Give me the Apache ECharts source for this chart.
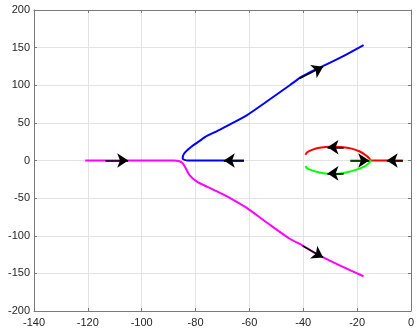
<!DOCTYPE html>
<html><head><meta charset="utf-8">
<script src="https://cdn.jsdelivr.net/npm/echarts@6/dist/echarts.min.js"></script>
<style>html,body{margin:0;padding:0;background:#fff}#c{width:417px;height:328px}</style>
</head><body><div id="c"></div>
<script>
// Root locus branches [re, im]
const blueBranch = [[-62,0],[-75,0],[-83,0],[-84.8,2.5],[-84.3,9],[-82,17],[-78.5,26],[-75.6,33],[-72,39],[-68.3,46],[-61,60],[-53.7,78],[-45,100],[-40.7,111],[-36.5,119],[-32.9,125],[-25.5,138],[-17.6,153.4]];
const magentaBranch = [[-121,0],[-100,0],[-88,0],[-86,-1],[-84.8,-3.5],[-84,-8],[-82.3,-19],[-79.5,-28],[-75.6,-35],[-72,-41],[-68.3,-47.7],[-61,-63],[-53.7,-82],[-45,-104],[-40.2,-113],[-36.5,-121],[-32.9,-128],[-25.5,-141],[-17.6,-153.8]];
const redBranch = [[-3,0],[-14.8,0],[-15.5,3],[-17,7.5],[-19,12],[-22,15.8],[-26,17.8],[-30,18.3],[-34,16.8],[-36.5,14.5],[-38.5,11],[-39.2,7.5]];
const greenBranch = [[-22.5,0],[-14.8,0],[-15.5,-3],[-17,-7.5],[-20.5,-12.5],[-24,-16],[-28,-17.8],[-31,-17.6],[-34,-16],[-36.5,-13.5],[-38.5,-10.5],[-39.2,-7.5]];
// direction arrows: [tail, tip]
const arrows = [
  [[-113.5,0],[-105,0]],
  [[-62,0],[-69.5,0]],
  [[-41.4,109],[-32.6,124.7]],
  [[-40.2,-113.5],[-32.6,-129]],
  [[-3,0],[-9,0]],
  [[-22.5,0],[-15.5,0]],
  [[-25,17.6],[-31,17.6]],
  [[-25,-17.2],[-31,-17.2]]
];
const xTicks = {min:-140,max:0,interval:20};
const yTicks = {min:-200,max:200,interval:50};

const chart = echarts.init(document.getElementById('c'));
const axCol = '#7a7a7a';
const lbl = {color:'#262626',fontSize:11,fontFamily:'Liberation Sans, Arial, sans-serif'};
function mkLine(data,color){return {type:'line',data:data,showSymbol:false,symbol:'none',smooth:0.25,smoothMonotone:null,lineStyle:{color:color,width:2},z:3,animation:false};}
chart.setOption({
  animation:false,
  grid:{left:34,right:1,top:10,bottom:17,containLabel:false},
  xAxis:[
    {type:'value',min:xTicks.min,max:xTicks.max,interval:xTicks.interval,position:'bottom',
     axisLine:{show:true,onZero:false,lineStyle:{color:axCol,width:1}},
     axisTick:{show:true,inside:true,length:3,lineStyle:{color:axCol}},
     axisLabel:Object.assign({margin:6},lbl),
     splitLine:{show:true,lineStyle:{color:'#e3e3e3',width:1}}},
    {type:'value',min:xTicks.min,max:xTicks.max,interval:xTicks.interval,position:'top',
     axisLine:{show:true,onZero:false,lineStyle:{color:axCol,width:1}},
     axisTick:{show:true,inside:true,length:3,lineStyle:{color:axCol}},
     axisLabel:{show:false},splitLine:{show:false}}
  ],
  yAxis:[
    {type:'value',min:yTicks.min,max:yTicks.max,interval:yTicks.interval,position:'left',
     axisLine:{show:true,onZero:false,lineStyle:{color:axCol,width:1}},
     axisTick:{show:true,inside:true,length:3,lineStyle:{color:axCol}},
     axisLabel:Object.assign({margin:4},lbl),
     splitLine:{show:true,lineStyle:{color:'#e3e3e3',width:1}}},
    {type:'value',min:yTicks.min,max:yTicks.max,interval:yTicks.interval,position:'right',
     axisLine:{show:true,onZero:false,lineStyle:{color:axCol,width:1}},
     axisTick:{show:true,inside:true,length:3,lineStyle:{color:axCol}},
     axisLabel:{show:false},splitLine:{show:false}}
  ],
  series:[
    mkLine(blueBranch,'#0000ff'),
    mkLine(magentaBranch,'#ff00ff'),
    mkLine(redBranch,'#ff0000'),
    mkLine(greenBranch,'#00ff00'),
    {type:'lines',coordinateSystem:'cartesian2d',z:5,
     symbol:['none','arrow'],symbolSize:[8,11],
     lineStyle:{color:'#000',width:1.5,opacity:1,curveness:0},
     itemStyle:{color:'#000'},
     data:arrows.map(a=>({coords:a}))}
  ]
});
</script></body></html>
